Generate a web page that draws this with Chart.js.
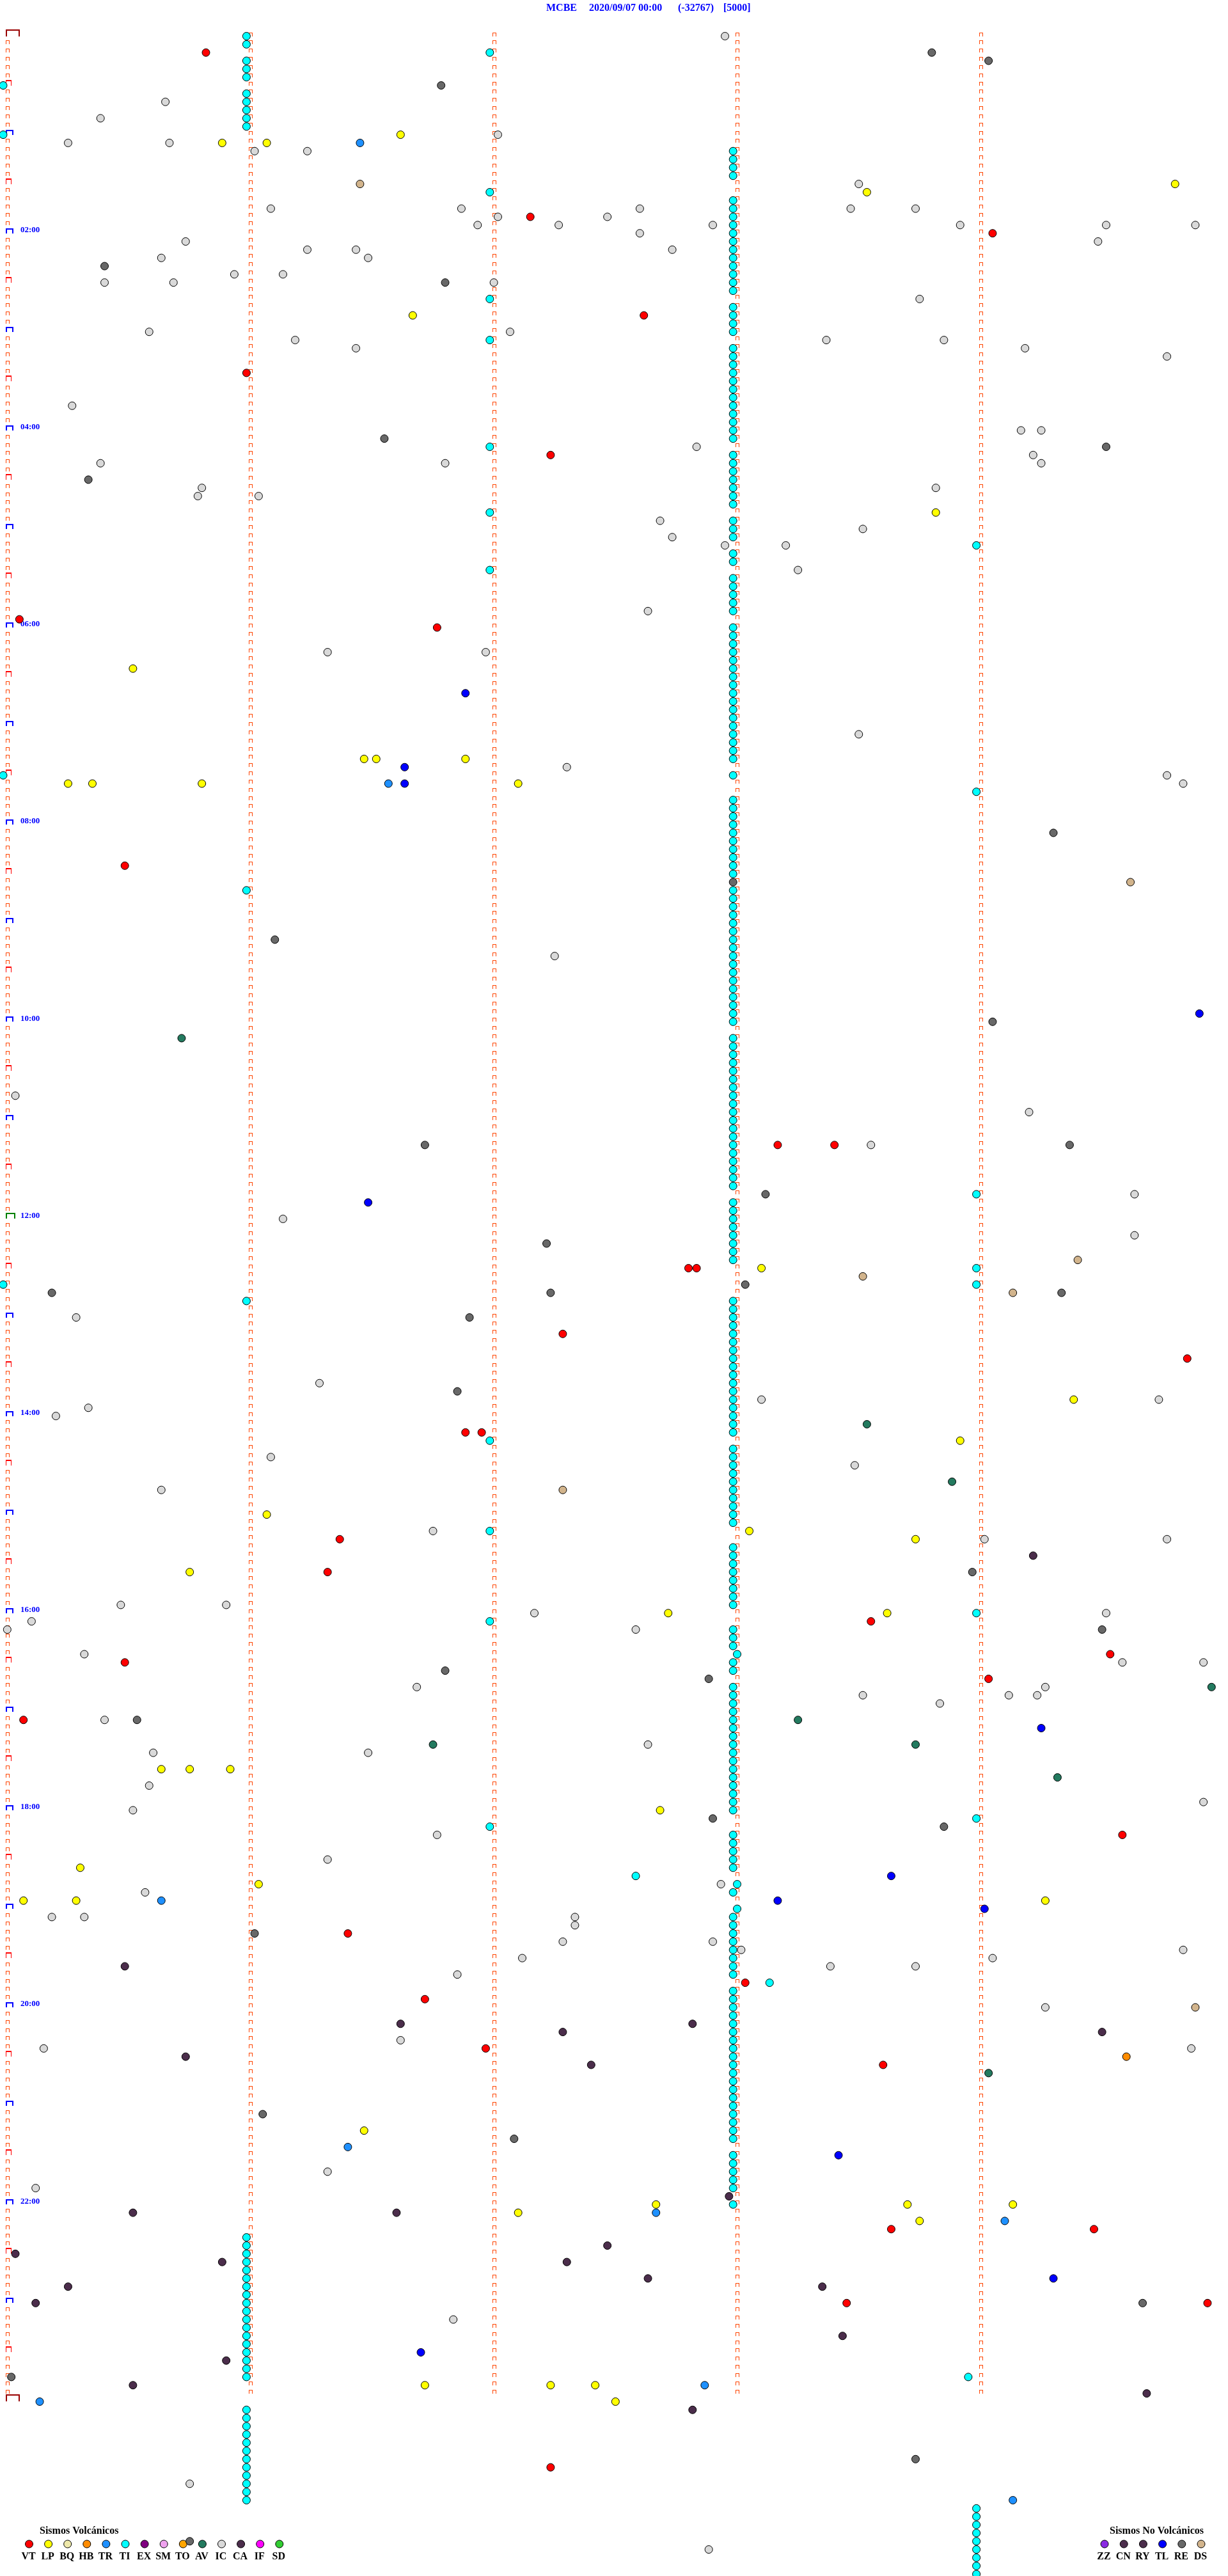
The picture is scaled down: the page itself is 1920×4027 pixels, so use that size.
<!DOCTYPE html>
<html>
<head>
<meta charset="utf-8">
<title>MCBE 2020/09/07</title>
<script src="https://cdn.jsdelivr.net/npm/chart.js@4.4.1/dist/chart.umd.min.js"></script>
<style>
html,body{margin:0;padding:0;background:#ffffff;}
#chartBox{position:relative;width:1920px;height:4027px;}
#drum{display:block;width:1920px;height:4027px;}
</style>
</head>
<body>
<div id="chartBox"><canvas id="drum" width="1920" height="4027"></canvas></div>
<script>
// ================= DATA =================
// Each event: [line (5-minute line of the day, 0 = 00:00), second within that line]
const titleParts = ['MCBE', '2020/09/07 00:00', '(-32767)', '[5000]'];
const hourLabels = ['02:00','04:00','06:00','08:00','10:00','12:00','14:00','16:00','18:00','20:00','22:00'];
const hourLabelLines = [24,48,72,96,120,144,168,192,216,240,264];
const minuteMarks = [0,60,120,180,240];
const linesPerDay = 288;

const volcanicTypes = ['VT','LP','BQ','HB','TR','TI','EX','SM','TO','AV','IC','CA','IF','SD'];
const nonVolcanicTypes = ['ZZ','CN','RY','TL','RE','DS'];
const volcanicHeading = 'Sismos Volcánicos';
const nonVolcanicHeading = 'Sismos No Volcánicos';

const VT = [[2,50],[22,130],[24,244],[34,158],[41,60],[51,135],[71,4],[72,107],[101,30],[135,191],[135,205],[150,169],[150,171],[158,138],[161,292],[170,114],[170,118],[183,83],[187,80],[193,214],[197,273],[198,30],[200,243],[205,5],[219,276],[231,85],[237,183],[239,104],[245,119],[247,217],[267,219],[267,269],[276,208],[276,297],[296,135]];

const LP = [[12,98],[13,54],[13,65],[18,289],[19,213],[34,101],[58,230],[77,32],[88,89],[88,92],[88,114],[91,16],[91,22],[91,49],[91,127],[150,187],[166,264],[171,236],[180,65],[182,184],[183,225],[187,46],[192,164],[192,218],[211,39],[211,46],[211,56],[216,162],[223,19],[225,63],[227,5],[227,18],[227,257],[255,89],[264,161],[264,223],[264,249],[265,127],[266,226],[286,104],[286,135],[286,146],[288,151]];

const TR = [[13,88],[91,95],[227,39],[257,85],[265,161],[266,247],[286,173],[288,9],[300,249]];

const HB = [[246,277]];

const AV = [[122,44],[169,213],[176,234],[201,298],[205,196],[208,106],[208,225],[212,260],[248,243]];

const CA = [[185,254],[235,30],[242,98],[242,170],[243,138],[243,271],[246,45],[247,145],[263,179],[265,32],[265,97],[269,149],[270,3],[271,54],[271,139],[273,159],[274,16],[274,202],[276,8],[280,207],[283,55],[286,32],[287,282],[289,170]];

const TL = [[80,114],[89,99],[91,99],[119,295],[142,90],[206,256],[224,219],[227,191],[228,242],[258,206],[273,259],[282,103]];

const DS = [[18,88],[103,278],[149,265],[151,212],[153,249],[177,138],[240,294]];

const RE = [[2,229],[3,243],[6,108],[28,25],[30,109],[49,94],[50,272],[54,21],[97,259],[103,180],[110,67],[120,244],[135,104],[135,263],[141,188],[147,134],[152,183],[153,12],[153,135],[153,261],[156,115],[165,112],[187,239],[194,271],[199,109],[200,174],[205,33],[217,175],[218,232],[231,62],[253,64],[256,126],[276,281],[285,2],[295,225],[305,46]];

const IC = [[0,178],[8,40],[10,24],[12,122],[13,16],[13,41],[14,62],[14,75],[18,211],[21,66],[21,113],[21,157],[21,209],[21,225],[22,122],[22,149],[23,117],[23,137],[23,175],[23,236],[23,272],[23,294],[24,157],[25,45],[25,270],[26,75],[26,87],[26,165],[27,39],[27,90],[29,57],[29,69],[30,25],[30,42],[30,121],[32,226],[36,36],[36,125],[37,72],[37,203],[37,232],[38,87],[38,252],[39,287],[45,17],[48,251],[48,256],[50,171],[51,254],[52,24],[52,109],[52,256],[55,49],[55,230],[56,48],[56,63],[59,162],[60,212],[61,165],[62,178],[62,193],[65,196],[70,159],[75,80],[75,119],[85,211],[89,139],[90,287],[91,291],[112,136],[129,3],[131,253],[135,214],[141,279],[144,69],[146,279],[156,18],[164,78],[166,187],[166,285],[167,21],[168,13],[173,66],[174,210],[177,39],[182,106],[183,242],[183,287],[191,29],[191,55],[192,131],[192,272],[193,7],[194,1],[194,156],[197,20],[198,276],[198,296],[201,102],[201,257],[202,212],[202,248],[202,255],[203,231],[205,25],[208,159],[209,37],[209,90],[213,36],[215,296],[216,32],[219,107],[222,80],[225,177],[226,35],[229,12],[229,20],[229,141],[230,141],[232,138],[232,175],[233,182],[233,291],[234,128],[234,244],[235,204],[235,225],[236,112],[240,257],[244,98],[245,10],[245,293],[260,80],[262,8],[278,111],[298,46],[306,174]];

const TI = [[0,60],[1,60],[2,120],[3,60],[4,60],[5,60],[6,0],[7,60],[8,60],[9,60],[10,60],[11,60],[12,0],
[14,180],[15,180],[16,180],[17,180],[19,120],
[20,180],[21,180],[22,180],[23,180],[24,180],[25,180],[26,180],[27,180],[28,180],[29,180],[30,180],[31,180],
[32,120],[33,180],[34,180],[35,180],[36,180],[37,120],
[38,180],[39,180],[40,180],[41,180],[42,180],[43,180],[44,180],[45,180],[46,180],[47,180],[48,180],[49,180],
[50,120],[51,180],[52,180],[53,180],[54,180],[55,180],[56,180],[57,180],[58,120],
[59,180],[60,180],[61,180],[62,240],[63,180],[64,180],[65,120],
[66,180],[67,180],[68,180],[69,180],[70,180],
[72,180],[73,180],[74,180],[75,180],[76,180],[77,180],[78,180],[79,180],[80,180],[81,180],[82,180],[83,180],[84,180],[85,180],[86,180],[87,180],[88,180],
[90,0],[90,180],[92,240],
[93,180],[94,180],[95,180],[96,180],[97,180],[98,180],[99,180],[100,180],[101,180],[102,180],
[104,60],[104,180],[105,180],[106,180],[107,180],[108,180],[109,180],[110,180],[111,180],[112,180],[113,180],[114,180],[115,180],[116,180],[117,180],[118,180],[119,180],[120,180],
[122,180],[123,180],[124,180],[125,180],[126,180],[127,180],[128,180],[129,180],[130,180],[131,180],[132,180],[133,180],[134,180],[135,180],[136,180],[137,180],[138,180],[139,180],[140,180],
[141,240],[142,180],[143,180],[144,180],[145,180],[146,180],[147,180],[148,180],[149,180],
[150,240],[152,0],[152,240],[154,60],
[154,180],[155,180],[156,180],[157,180],[158,180],[159,180],[160,180],[161,180],[162,180],[163,180],[164,180],[165,180],[166,180],[167,180],[168,180],[169,180],[170,180],
[171,120],[172,180],[173,180],[174,180],[175,180],[176,180],[177,180],[178,180],[179,180],[180,180],[181,180],
[182,120],[184,180],[185,180],[186,180],[187,180],[188,180],[189,180],[190,180],[191,180],
[192,240],[193,120],[194,180],[195,180],[196,180],[197,181],[198,180],[199,180],
[201,180],[202,180],[203,180],[204,180],[205,180],[206,180],[207,180],[208,180],[209,180],[210,180],[211,180],[212,180],[213,180],[214,180],[215,180],[216,180],
[217,240],[218,120],[219,180],[220,180],[221,180],[222,180],[223,180],[224,156],
[225,181],[226,180],[228,181],[229,180],[230,180],[231,180],[232,180],[233,180],[234,180],[235,180],[236,180],
[237,189],[238,180],[239,180],[240,180],[241,180],[242,180],[243,180],[244,180],[245,180],[246,180],[247,180],[248,180],[249,180],[250,180],[251,180],[252,180],[253,180],[254,180],[255,180],[256,180],
[258,180],[259,180],[260,180],[261,180],[262,180],[264,180],
[268,60],[269,60],[270,60],[271,60],[272,60],[273,60],[274,60],[275,60],[276,60],[277,60],[278,60],[279,60],[280,60],[281,60],[282,60],[283,60],[284,60],[285,60],[285,238],
[289,60],[290,60],[291,60],[292,60],[293,60],[294,60],[295,60],[296,60],[297,60],[298,60],[299,60],[300,60],
[301,240],[302,240],[303,240],[304,240],[305,240],[306,240],[307,240],[308,240],[309,240]];

// ================= STYLE =================
const typeColors = {
  VT:'#FF0000', LP:'#FFFF00', BQ:'#EEE8AA', HB:'#FF8C00', TR:'#1E90FF', TI:'#00FFFF',
  EX:'#800080', SM:'#EEA2EE', TO:'#FFA500', AV:'#237A5F', IC:'#D9D9D9', CA:'#4B2D4B',
  IF:'#FF00FF', SD:'#32CD32', ZZ:'#8A2BE2', CN:'#4B2D4B', RY:'#4B2D4B', TL:'#0000FF',
  RE:'#686868', DS:'#D2B48C'
};
const FONT = '"Liberation Serif", "Times New Roman", serif';
// pixel mapping of the drum: 6.34 px per second, 12.84 px per 5-minute line
const X_MIN = -5 / 6.34, X_MAX = (1920 - 5) / 6.34;
const Y_MIN = -56.5 / 12.84, Y_MAX = (4027 - 56.5) / 12.84;

function glyph(w, h, top, leg, color) {
  const c = document.createElement('canvas');
  c.width = 80; c.height = 40;
  const g = c.getContext('2d');
  g.fillStyle = color;
  const x0 = 44, yb = 20;
  g.fillRect(x0, yb - h, w, top);
  g.fillRect(x0, yb - h, leg, h);
  g.fillRect(x0 + w - leg, yb - h, leg, h);
  return c;
}
const gSmall = glyph(6, 6, 1, 1, '#FF4500');
const gHour = glyph(12, 8, 2, 2, '#0000FF');
const gHalf = glyph(9, 9, 2, 1, '#FF0000');
const gNoon = glyph(15, 9, 2, 2, '#008000');
const gDay = glyph(22, 11, 2, 2, '#990000');

// grid marks (one per 5-minute line at each minute mark)
const smallMarks = [], hourMarks = [], halfMarks = [], noonMarks = [], dayMarks = [];
for (const m of minuteMarks) {
  for (let r = 0; r < linesPerDay; r++) {
    if (m === 0 && r % 6 === 0) continue;
    smallMarks.push({x: m, y: r});
  }
}
for (let r = 0; r <= linesPerDay; r++) {
  if (r === 0 || r === linesPerDay) dayMarks.push({x: 0, y: r});
  else if (r === linesPerDay / 2) noonMarks.push({x: 0, y: r});
  else if (r % 12 === 0) hourMarks.push({x: 0, y: r});
  else if (r % 6 === 0) halfMarks.push({x: 0, y: r});
}
function markSet(data, img) {
  return { label: 'mark', data, pointStyle: img, pointRadius: 3, pointHoverRadius: 3, order: 10 };
}

const toPts = arr => arr.map(([r, s]) => ({x: s, y: r}));
const eventSeries = [['TI',TI],['IC',IC],['RE',RE],['CA',CA],['DS',DS],['AV',AV],['HB',HB],['TR',TR],['TL',TL],['LP',LP],['VT',VT]];

const datasets = [
  markSet(smallMarks, gSmall), markSet(hourMarks, gHour), markSet(halfMarks, gHalf),
  markSet(noonMarks, gNoon), markSet(dayMarks, gDay)
];
for (const [name, arr] of eventSeries) {
  datasets.push({
    label: name, data: toPts(arr), pointStyle: 'circle', pointRadius: 6, pointHoverRadius: 6,
    pointBackgroundColor: typeColors[name], pointBorderColor: '#000000', pointBorderWidth: 1, order: 1
  });
}

const drumText = {
  id: 'drumText',
  beforeDatasetsDraw(chart) {
    const ctx = chart.ctx;
    const xs = chart.scales.x, ys = chart.scales.y;
    ctx.save();
    ctx.textBaseline = 'middle';
    ctx.textAlign = 'left';
    // title
    ctx.fillStyle = '#0000FF';
    ctx.font = 'bold 16px ' + FONT;
    const tx = [854, 921, 1060, 1131];
    titleParts.forEach((t, i) => ctx.fillText(t, tx[i], 13));
    // hour labels
    ctx.font = 'bold 13px ' + FONT;
    hourLabels.forEach((t, i) => {
      ctx.fillText(t, xs.getPixelForValue(0) + 27, ys.getPixelForValue(hourLabelLines[i]) - 5);
    });
    // legends
    ctx.fillStyle = '#000000';
    ctx.font = 'bold 16px ' + FONT;
    ctx.fillText(volcanicHeading, 62, 3957);
    ctx.fillText(nonVolcanicHeading, 1735, 3957);
    const drawGroup = (types, x0, step) => {
      types.forEach((t, i) => {
        const cx = x0 + i * step;
        ctx.beginPath();
        ctx.arc(cx, 3977, 6, 0, Math.PI * 2);
        ctx.fillStyle = typeColors[t];
        ctx.fill();
        ctx.lineWidth = 1;
        ctx.strokeStyle = '#000000';
        ctx.stroke();
        ctx.fillStyle = '#000000';
        ctx.textAlign = 'center';
        ctx.fillText(t, cx - 1, 3997);
        ctx.textAlign = 'left';
      });
    };
    drawGroup(volcanicTypes, 45.5, 30.1);
    drawGroup(nonVolcanicTypes, 1727, 30.2);
    ctx.restore();
    ctx.imageSmoothingEnabled = false;
  }
};

new Chart(document.getElementById('drum'), {
  type: 'scatter',
  data: { datasets },
  options: {
    responsive: false,
    maintainAspectRatio: false,
    animation: false,
    devicePixelRatio: 1,
    events: [],
    layout: { padding: 0, autoPadding: false },
    scales: {
      x: { type: 'linear', min: X_MIN, max: X_MAX, display: false },
      y: { type: 'linear', min: Y_MIN, max: Y_MAX, reverse: true, display: false }
    },
    plugins: { legend: { display: false }, tooltip: { enabled: false }, title: { display: false } }
  },
  plugins: [drumText]
});
</script>
</body>
</html>
